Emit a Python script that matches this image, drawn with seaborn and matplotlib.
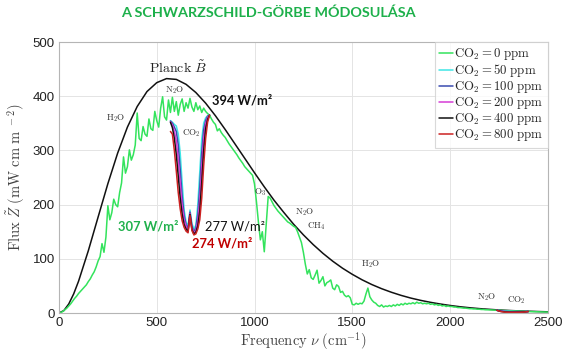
import numpy as np
import pandas as pd
import matplotlib
matplotlib.use("Agg")
import matplotlib.pyplot as plt
import seaborn as sns

# ==========================================
# Data
# ==========================================

# outgoing spectrum without CO2, every 10 cm-1 from 0 to 2500
nu = np.arange(0, 2501, 10)
flux_0ppm = [
    0, 1, 3, 6, 9, 13, 17, 22, 27, 31,
    36, 40, 44, 48, 52, 58, 63, 70, 76, 85,
    96, 104, 128, 112, 140, 198, 172, 185, 210, 200,
    196, 222, 240, 288, 258, 270, 301, 282, 292, 310,
    369, 322, 318, 344, 330, 326, 358, 340, 337, 372,
    355, 343, 378, 399, 362, 356, 393, 370, 398, 372,
    390, 365, 385, 395, 372, 388, 378, 396, 380, 372,
    388, 375, 382, 370, 378, 372, 368, 365, 358, 352,
    348, 336, 340, 333, 328, 324, 318, 312, 307, 302,
    297, 292, 286, 281, 276, 270, 266, 262, 258, 254,
    238, 205, 168, 135, 150, 113, 165, 215, 212, 205,
    198, 193, 188, 184, 180, 176, 172, 168, 166, 163,
    160, 158, 150, 140, 130, 112, 90, 72, 80, 65,
    62, 70, 79, 55, 60, 67, 50, 56, 58, 61,
    46, 43, 52, 49, 38, 40, 33, 30, 32, 28,
    16, 15, 18, 16, 18, 17, 22, 35, 46, 30,
    24, 20, 18, 14, 12, 15, 11, 13, 12, 14,
    12, 15, 13, 16, 14, 17, 15, 18, 16, 18,
    17, 19, 17, 20, 18, 19, 17, 18, 17, 18,
    16, 17, 15, 16, 14, 15, 13, 14, 12, 13,
    12, 12, 11, 11, 10, 10, 9.5, 9, 9, 8.5,
    8, 8, 7.5, 7.5, 7, 7, 6.5, 6.5, 6, 6,
    5.8, 5.6, 5.4, 5.2, 5.0, 4.9, 4.8, 4.7, 4.6, 4.5,
    4.3, 4.1, 3.9, 3.7, 3.5, 3.3, 3.2, 3.0, 2.9, 2.8,
    2.7, 2.6, 2.5, 2.4, 2.3, 2.2, 2.1, 2.0, 1.9, 1.8,
    1.7,
]

# Planck curve
planck_nu = [0, 25, 50, 75] + list(range(100, 2501, 50))
planck_flux = [
    0, 4.5, 16.7, 35.2, 58.6, 114.9, 177, 238.6, 295, 343, 381, 408.6,
    425, 432.5, 431, 421.9, 406.8, 387.2, 364, 338.6, 312, 285.4,
    258.7, 232.8, 208, 185.5, 163.8, 144.2, 126.3, 110.1, 95.6, 82.7,
    71.4, 61.3, 52.5, 44.9, 38.3, 32.5, 27.5, 23.3, 19.7, 16.6,
    13.9, 11.6, 9.7, 8.1, 6.8, 5.6, 4.7, 3.9, 3.3, 2.7,
    2.2,
]

# 15 micron CO2 band
band_nu = np.arange(570, 771, 10)
flux_50ppm = [355, 352, 348, 345, 330, 295, 240, 190, 168, 160, 190,
              165, 155, 162, 200, 260, 320, 350, 360, 364, 365]
flux_100ppm = [354, 350, 343, 335, 310, 265, 215, 180, 163, 156, 186,
               160, 150, 157, 182, 232, 295, 338, 355, 363, 365]
flux_200ppm = [353, 347, 335, 318, 282, 240, 198, 172, 160, 152, 184,
               157, 148, 152, 170, 208, 268, 322, 349, 361, 365]
flux_400ppm = [352, 342, 322, 292, 252, 212, 182, 163, 155, 150, 182,
               154, 146, 149, 161, 188, 240, 300, 340, 357, 365]
flux_800ppm = [335, 330, 300, 262, 222, 192, 170, 158, 151, 148, 180,
               152, 144, 146, 155, 172, 212, 272, 322, 352, 365]

# 4.3 micron CO2 band
hi_nu = [2240, 2260, 2280, 2300, 2320, 2340, 2360, 2380, 2400]
hi_50ppm = [5.0, 4.2, 3.6, 3.2, 2.9, 2.7, 2.6, 2.6, 2.7]
hi_100ppm = [5.0, 3.8, 3.0, 2.6, 2.4, 2.3, 2.3, 2.4, 2.7]
hi_200ppm = [5.0, 3.4, 2.5, 2.1, 1.9, 1.9, 2.0, 2.2, 2.7]
hi_400ppm = [5.0, 3.0, 2.0, 1.6, 1.5, 1.5, 1.6, 2.0, 2.7]
hi_800ppm = [5.0, 2.6, 1.6, 1.2, 1.1, 1.1, 1.2, 1.8, 2.7]

concentrations = [50, 100, 200, 400, 800]
band_series = [flux_50ppm, flux_100ppm, flux_200ppm, flux_400ppm, flux_800ppm]
hi_series = [hi_50ppm, hi_100ppm, hi_200ppm, hi_400ppm, hi_800ppm]
colors = ["#3ee6e6", "#3a4bb0", "#d63cd6", "#111111", "#cc2222"]
green = "#33e35c"

# ==========================================
# Style
# ==========================================

sns.set_theme(style="whitegrid")
plt.rcParams["font.family"] = ["Liberation Sans", "DejaVu Sans"]
plt.rcParams["mathtext.fontset"] = "cm"

fig = plt.figure(figsize=(5.7, 3.53), dpi=100)
ax = fig.add_axes([0.1035, 0.1133, 0.8575, 0.7677])

# ==========================================
# Plot
# ==========================================

sns.lineplot(x=planck_nu, y=planck_flux, color="#111111", lw=1.1, ax=ax)

handles = []
sns.lineplot(x=nu, y=flux_0ppm, color=green, lw=1.1, ax=ax)
handles.append(ax.lines[-1])

for c, band, hi, col in zip(concentrations, band_series, hi_series, colors):
    sns.lineplot(x=band_nu, y=band, color=col, lw=1.1, ax=ax)
    handles.append(ax.lines[-1])
    sns.lineplot(x=hi_nu, y=hi, color=col, lw=1.1, ax=ax)

labels = [r"$\mathrm{CO}_2 = %d\ \mathrm{ppm}$" % c for c in [0] + concentrations]
leg = ax.legend(handles, labels, loc="upper right", bbox_to_anchor=(1, 1),
                borderaxespad=0, fontsize=9.2, frameon=True, fancybox=False,
                edgecolor="#d0d0d0", handlelength=1.1, handletextpad=0.1,
                labelspacing=0.0, borderpad=0.35)
leg.get_frame().set_linewidth(0.8)

ax.set_xlim(0, 2500)
ax.set_ylim(0, 500)
ax.set_xticks(range(0, 2501, 500))
ax.set_yticks(range(0, 501, 100))
ax.tick_params(labelsize=9.5, colors="#222222", length=0, pad=3)
ax.grid(color="#e4e4e4", lw=0.7)
for s in ax.spines.values():
    s.set_color("#b5b5b5")
    s.set_linewidth(0.8)

ax.set_xlabel(r"$\mathrm{Frequency}\ \nu\ (\mathrm{cm}^{-1})$",
              fontsize=10.5, color="#444444", labelpad=1)
ax.set_ylabel(r"$\mathrm{Flux}\ \tilde{Z}\ (\mathrm{mW\ cm\ m}^{\ -2})$",
              fontsize=10.5, color="#444444", labelpad=4)

# molecule labels
small = dict(fontsize=6.5, color="#333333", ha="left", va="center")
ax.text(607, 452, r"$\mathrm{Planck}\ \tilde{B}$", fontsize=10,
        color="#222222", ha="center", va="center")
ax.text(240, 360, r"$\mathrm{H_2O}$", **small)
ax.text(540, 411, r"$\mathrm{N_2O}$", **small)
ax.text(628, 332, r"$\mathrm{CO_2}$", **small)
ax.text(995, 223, r"$\mathrm{O_3}$", **small)
ax.text(1205, 186, r"$\mathrm{N_2O}$", **small)
ax.text(1270, 160, r"$\mathrm{CH_4}$", **small)
ax.text(1545, 90, r"$\mathrm{H_2O}$", **small)
ax.text(2140, 30, r"$\mathrm{N_2O}$", **small)
ax.text(2290, 24, r"$\mathrm{CO_2}$", **small)

# radiated power labels
lab = dict(fontsize=9.3, family=["Lato", "DejaVu Sans"], ha="left", va="center")
ax.text(781, 393, "394 W/m²", color="#111111", fontweight="bold", **lab)
ax.text(301, 160, "307 W/m²", color="#20b04c", fontweight="bold", **lab)
ax.text(745, 160, "277 W/m²", color="#111111", **lab)
ax.text(679, 128, "274 W/m²", color="#c00000", fontweight="bold", **lab)

fig.text(0.47, 0.963, "A SCHWARZSCHILD-GÖRBE MÓDOSULÁSA",
         fontsize=10.4, fontweight="bold", color="#1db04b",
         family=["Lato", "DejaVu Sans"], ha="center", va="center")

plt.savefig("out.png", dpi=100)
